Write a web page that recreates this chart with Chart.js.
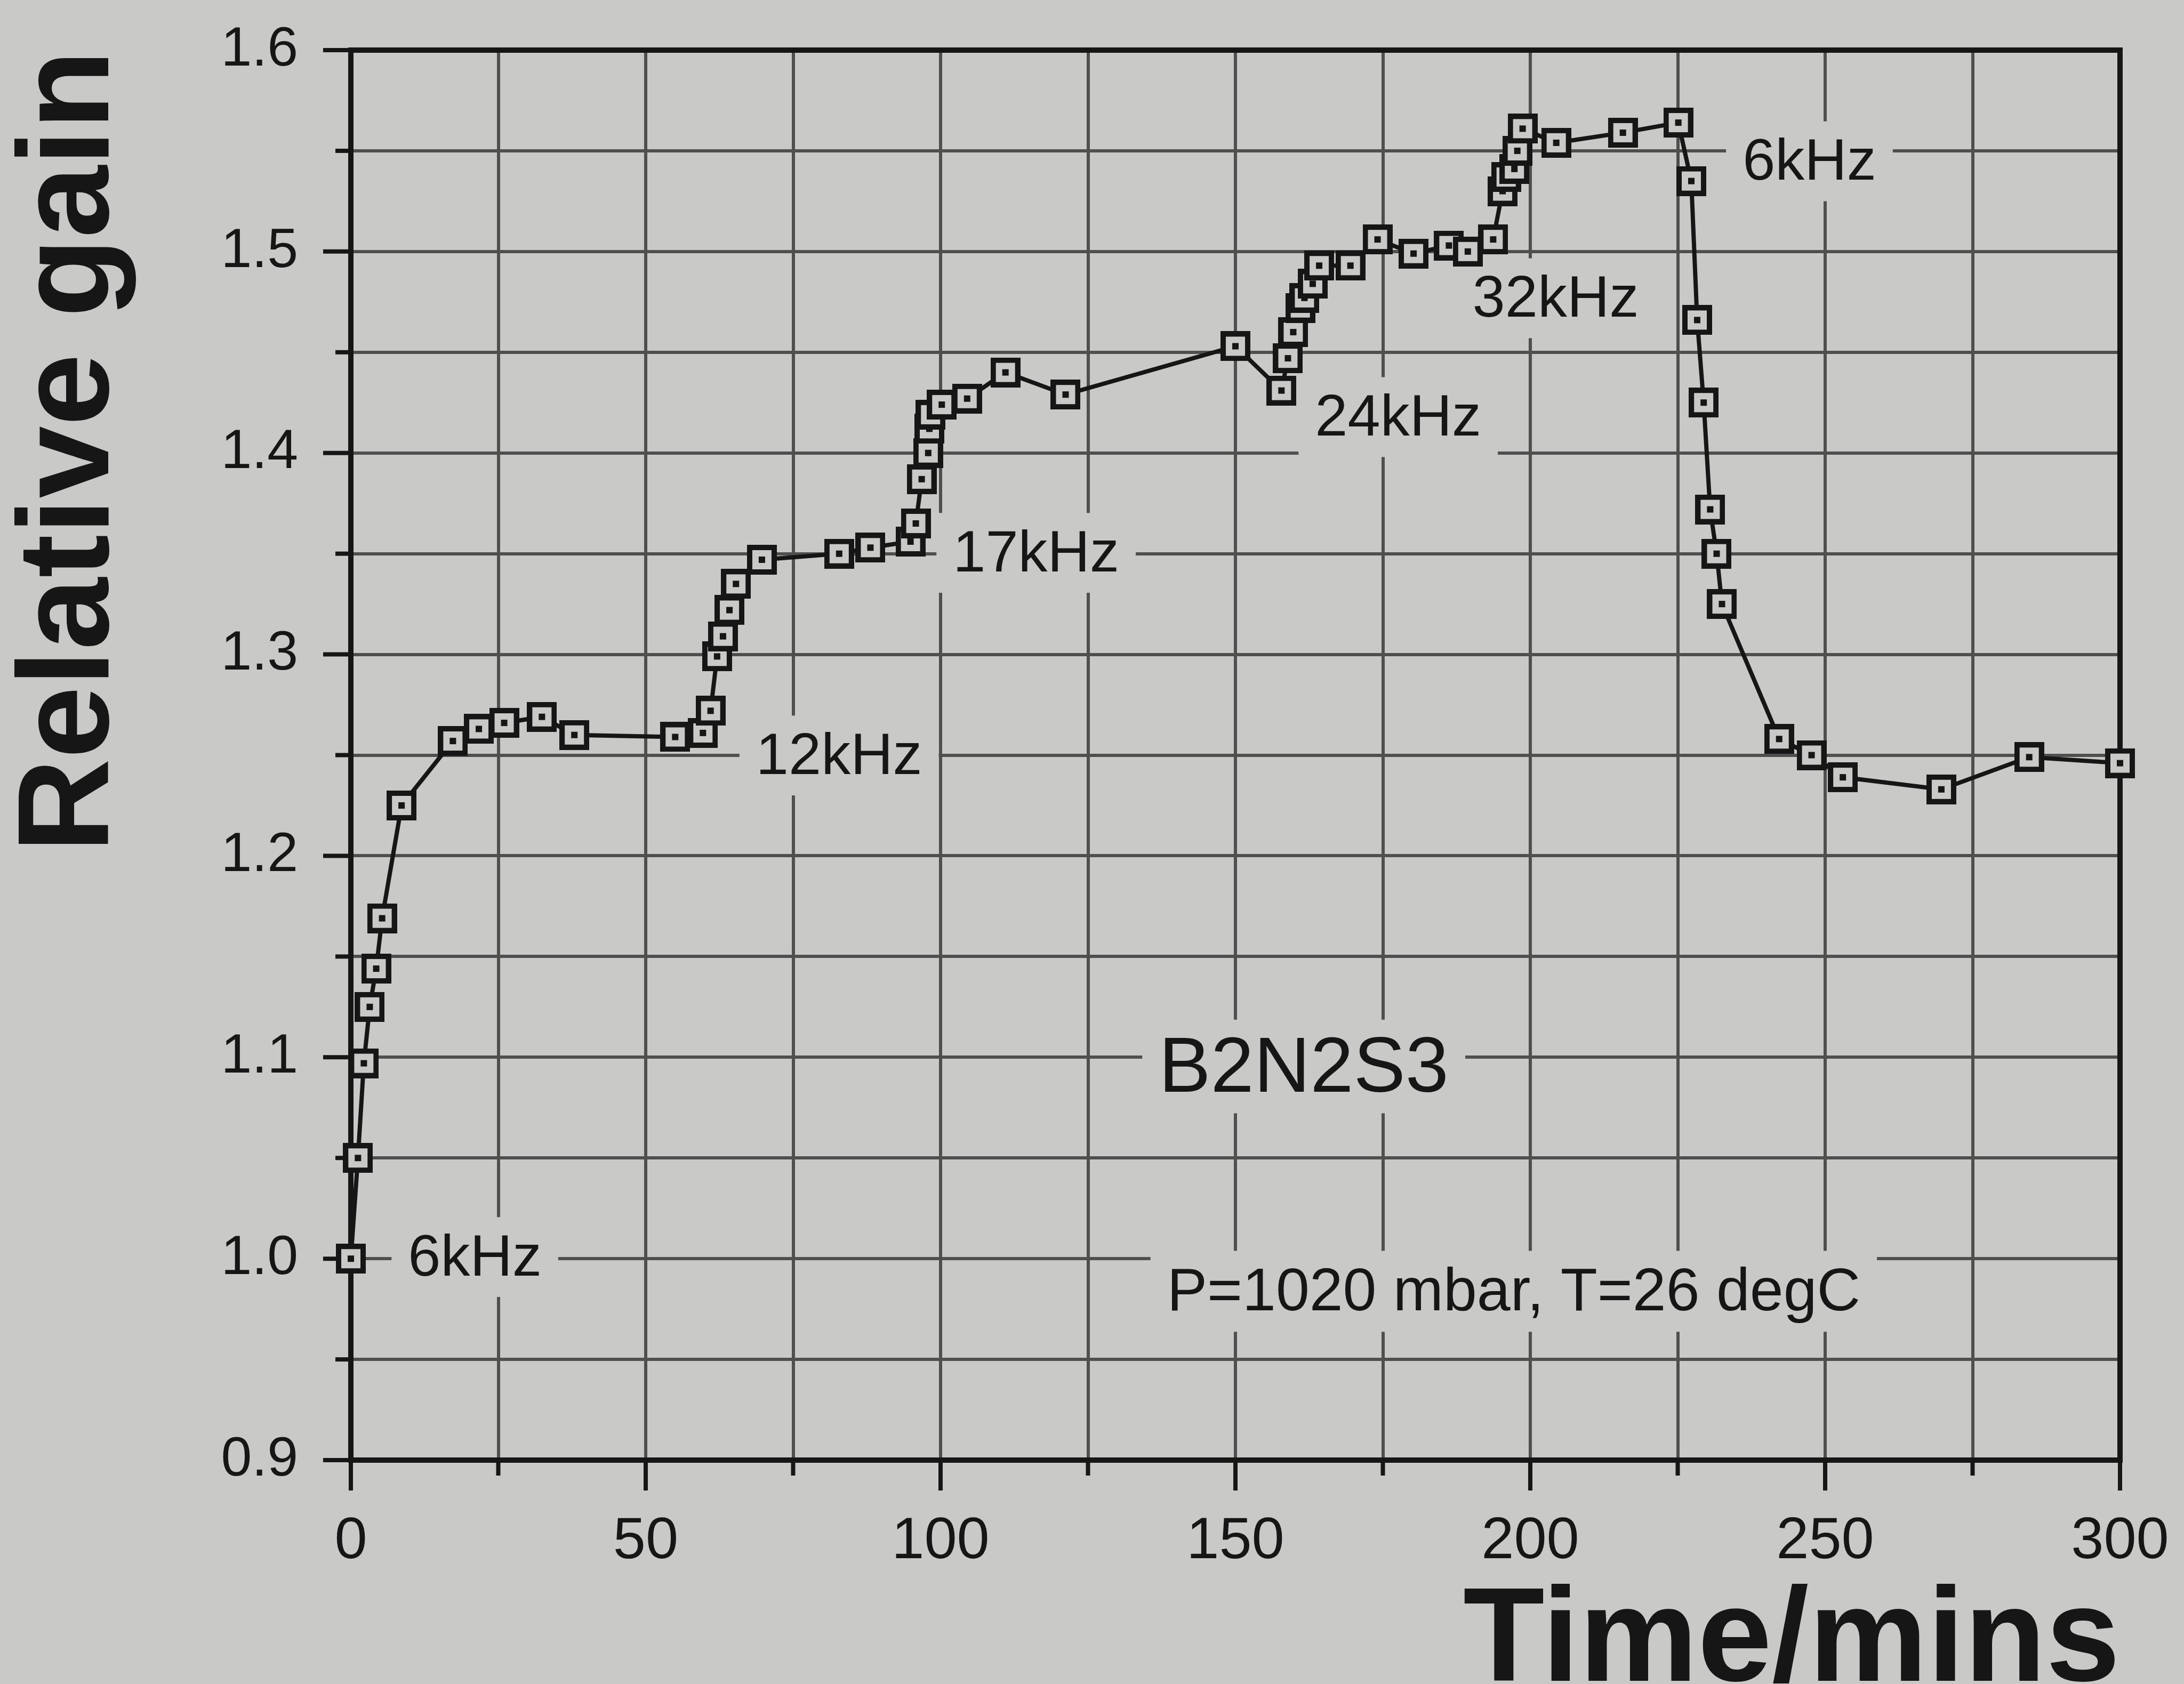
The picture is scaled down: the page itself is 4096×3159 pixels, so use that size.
<!DOCTYPE html>
<html>
<head>
<meta charset="utf-8">
<script src="https://cdn.jsdelivr.net/npm/chart.js@4.4.1/dist/chart.umd.min.js"></script>
<style>
  html, body { margin: 0; padding: 0; background: #c9c9c7; }
  canvas { display: block; }
</style>
</head>
<body>
<canvas id="chart" width="4096" height="3159" style="width:4096px;height:3159px"></canvas>
<script>
// ---------------- data ----------------
const timeMins = [
  0, 1.2, 2.2, 3.2, 4.3, 5.3, 8.6, 17.3, 21.7, 26.0, 32.4, 37.9,
  55.0, 59.7, 61.0, 62.1, 63.1, 64.2, 65.3, 69.7, 82.8, 88.1, 94.9, 95.8,
  96.8, 97.9, 98.1, 98.3, 100.2, 104.5, 111.0, 121.2, 150.0, 157.8, 158.9, 159.8,
  161.0, 161.7, 163.1, 164.2, 169.5, 174.1, 180.2, 186.2, 189.4, 193.7, 195.3, 195.9,
  197.3, 197.8, 198.7, 204.4, 215.7, 225.1, 227.3, 228.3, 229.4, 230.5, 231.6, 232.5,
  242.2, 247.7, 253.0, 269.7, 284.6, 300.0
];
const relativeGain = [
  1.000, 1.050, 1.097, 1.125, 1.144, 1.169, 1.225, 1.257, 1.263, 1.266, 1.269, 1.260,
  1.259, 1.261, 1.272, 1.299, 1.309, 1.322, 1.335, 1.347, 1.350, 1.353, 1.356, 1.365,
  1.387, 1.400, 1.412, 1.419, 1.424, 1.427, 1.440, 1.429, 1.453, 1.431, 1.447, 1.460,
  1.472, 1.477, 1.484, 1.493, 1.493, 1.506, 1.499, 1.503, 1.500, 1.506, 1.530, 1.537,
  1.541, 1.550, 1.561, 1.554, 1.559, 1.564, 1.535, 1.466, 1.425, 1.372, 1.350, 1.325,
  1.258, 1.250, 1.239, 1.233, 1.249, 1.246
];
const xTickLabels = ['0', '50', '100', '150', '200', '250', '300'];
const yTickLabels = ['0.9', '1.0', '1.1', '1.2', '1.3', '1.4', '1.5', '1.6'];
const xTitle = 'Time/mins';
const yTitle = 'Relative gain';

// text notes placed in data units (time, gain)
const noteTexts = ['6kHz', '12kHz', '17kHz', '24kHz', '32kHz', '6kHz', 'B2N2S3', 'P=1020 mbar, T=26 degC'];
const noteTime  = [9.7, 68.7, 102.1, 163.5, 190.2, 236.0, 137.0, 138.4];
const noteGain  = [1.002, 1.251, 1.3516, 1.419, 1.478, 1.546, 1.0966, 0.985];

// ---------------- styles ----------------
const PAPER = '#c9c9c7';
const INK = '#161616';
const GRID = '#4f4f4f';
const FAMILY = "'Liberation Sans', Arial, Helvetica, sans-serif";
const noteSizes = [110, 110, 110, 110, 110, 110, 146, 113];

function makeMarker() {
  const s = 56, b = 10, d = 12;
  const c = document.createElement('canvas');
  c.width = s; c.height = s;
  const g = c.getContext('2d');
  g.fillStyle = INK; g.fillRect(0, 0, s, s);
  g.fillStyle = PAPER; g.fillRect(b, b, s - 2 * b, s - 2 * b);
  g.fillStyle = INK; g.fillRect((s - d) / 2, (s - d) / 2, d, d);
  return c;
}

function isLabelled(list, v) {
  return list.find(l => Math.abs(parseFloat(l) - v) < 1e-6);
}

const paperPlugin = {
  id: 'paperPlugin',
  beforeDraw(chart) {
    const ctx = chart.ctx;
    ctx.save();
    ctx.fillStyle = PAPER;
    ctx.fillRect(0, 0, chart.width, chart.height);
    ctx.restore();
  },
  beforeDatasetsDraw(chart) {
    const ctx = chart.ctx;
    const xS = chart.scales.x, yS = chart.scales.y, a = chart.chartArea;
    ctx.save();
    // notes with paper-coloured boxes that hide the grid
    noteTexts.forEach((txt, i) => {
      const size = noteSizes[i];
      ctx.font = size + 'px ' + FAMILY;
      const w = ctx.measureText(txt).width;
      const x = xS.getPixelForValue(noteTime[i]);
      const y = yS.getPixelForValue(noteGain[i]);
      const cap = size * 0.716;
      ctx.fillStyle = PAPER;
      ctx.fillRect(x - 31, y - cap / 2 - 31, w + 62, cap + 71);
      ctx.fillStyle = INK;
      ctx.textAlign = 'left';
      ctx.textBaseline = 'alphabetic';
      ctx.fillText(txt, x, y + cap / 2);
    });
    // tick marks outside the frame
    ctx.strokeStyle = INK;
    ctx.lineCap = 'butt';
    ctx.lineWidth = 8;
    yS.ticks.forEach(tk => {
      const p = yS.getPixelForValue(tk.value);
      const len = isLabelled(yTickLabels, tk.value) ? 52 : 29;
      ctx.beginPath(); ctx.moveTo(a.left - len, p); ctx.lineTo(a.left, p); ctx.stroke();
    });
    xS.ticks.forEach(tk => {
      const p = xS.getPixelForValue(tk.value);
      const len = isLabelled(xTickLabels, tk.value) ? 57 : 29;
      ctx.beginPath(); ctx.moveTo(p, a.bottom); ctx.lineTo(p, a.bottom + len); ctx.stroke();
    });
    // frame
    ctx.lineWidth = 10;
    ctx.strokeRect(a.left, a.top, a.right - a.left, a.bottom - a.top);
    ctx.restore();
  }
};

const marker = makeMarker();

new Chart(document.getElementById('chart').getContext('2d'), {
  type: 'scatter',
  data: {
    datasets: [{
      data: timeMins.map((t, i) => ({ x: t, y: relativeGain[i] })),
      showLine: true,
      borderColor: INK,
      backgroundColor: PAPER,
      borderWidth: 8,
      tension: 0,
      pointStyle: marker,
      pointRadius: 28,
      pointHoverRadius: 28,
      clip: false
    }]
  },
  options: {
    responsive: false,
    animation: false,
    devicePixelRatio: 1,
    events: [],
    layout: { padding: { top: 94, right: 120, bottom: 0, left: 0 } },
    plugins: { legend: { display: false }, tooltip: { enabled: false } },
    scales: {
      x: {
        type: 'linear', min: 0, max: 300,
        grid: { color: GRID, lineWidth: 6, drawTicks: true, tickLength: 88, tickColor: 'rgba(0,0,0,0)' },
        border: { display: false },
        ticks: {
          stepSize: 25, autoSkip: false, maxRotation: 0, padding: 0,
          color: INK, font: { family: FAMILY, size: 110 },
          callback: v => isLabelled(xTickLabels, v) || ''
        },
        title: {
          display: true, text: xTitle, align: 'end', color: INK, padding: 0,
          font: { family: FAMILY, size: 250, weight: 'bold', lineHeight: 0.6 }
        },
        afterFit: s => { s.height = 420; }
      },
      y: {
        type: 'linear', min: 0.9, max: 1.6,
        grid: { color: GRID, lineWidth: 6, drawTicks: true, tickLength: 99, tickColor: 'rgba(0,0,0,0)' },
        border: { display: false },
        ticks: {
          stepSize: 0.05, autoSkip: false, padding: 0,
          color: INK, font: { family: FAMILY, size: 104 },
          callback: v => isLabelled(yTickLabels, v) || ''
        },
        title: {
          display: true, text: yTitle, align: 'end', color: INK,
          padding: { top: 14, bottom: 0 },
          font: { family: FAMILY, size: 244, weight: 'bold', lineHeight: 1 }
        },
        afterFit: s => { s.width = 658; }
      }
    }
  },
  plugins: [paperPlugin]
});
</script>
</body>
</html>
